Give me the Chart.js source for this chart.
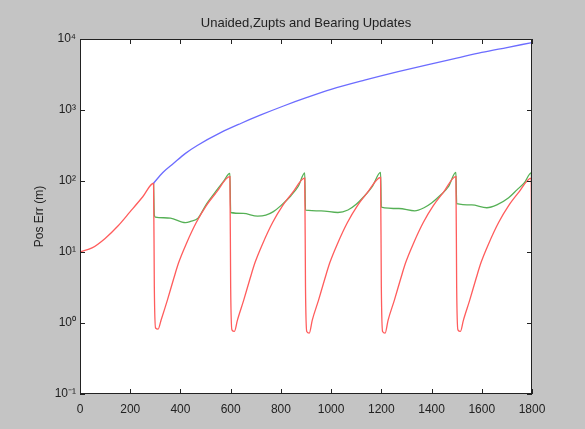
<!DOCTYPE html>
<html>
    <head>
        <title></title>
        <script src="https://cdn.jsdelivr.net/npm/chart.js"></script>
        <style>
          body { margin: 0; background: #c4c4c4; }
          canvas { display: block; }
        </style>
    </head>
    <body>
        <canvas id="myChart" width="585" height="429"></canvas>

        <script>
          // red: bearing updates
          const redX = [0, 50, 100, 150, 200, 250, 293,
            296, 301, 311, 323, 348, 373, 393, 423, 463, 503, 543, 597,
            600, 605, 615, 627, 652, 677, 697, 727, 767, 807, 847, 895,
            898, 903, 913, 925, 950, 975, 995, 1025, 1065, 1105, 1145, 1197,
            1200, 1205, 1215, 1227, 1252, 1277, 1297, 1327, 1367, 1407, 1447, 1497,
            1500, 1505, 1515, 1527, 1552, 1577, 1597, 1627, 1667, 1707, 1747, 1797,
            1800];
          const redY = [10, 11.5, 15.5, 23, 37, 60, 93,
            3.2, 0.85, 0.82, 1.1, 2.1, 4.2, 7.1, 13, 26, 45, 69, 115,
            3.2, 0.8, 0.76, 1.1, 2.1, 4.2, 7.1, 13, 26, 45, 69, 110,
            3.2, 0.76, 0.72, 1.1, 2.1, 4.2, 7.1, 13, 26, 45, 69, 112,
            3.2, 0.76, 0.72, 1.1, 2.1, 4.2, 7.1, 13, 26, 45, 69, 115,
            3.2, 0.8, 0.76, 1.1, 2.1, 4.2, 7.1, 13, 26, 45, 69, 110,
            0.8];

          // green: zupts
          const greenX = [293, 296, 300, 360, 420, 440, 470, 503, 543, 570, 597,
            600, 650, 707, 740, 770, 800, 840, 870, 895,
            898, 960, 1027, 1067, 1100, 1130, 1165, 1197,
            1200, 1270, 1333, 1370, 1400, 1435, 1467, 1497,
            1500, 1560, 1620, 1660, 1707, 1740, 1770, 1797, 1800];
          const greenY = [93, 33, 31, 30, 26, 27, 30, 47, 73, 97, 128,
            36, 35, 32, 33, 37, 45, 62, 85, 130,
            39, 38, 36, 39, 47, 60, 85, 132,
            43, 41, 38, 42, 49, 63, 83, 132,
            48, 46, 42, 46, 58, 75, 95, 130, 55];

          // blue: unaided
          const blueX = [293, 330, 373, 420, 467, 560, 640, 720, 813, 907, 1000, 1133, 1267, 1400, 1500, 1600, 1700, 1800];
          const blueY = [93, 132, 178, 245, 316, 479, 646, 851, 1148, 1514, 1950, 2630, 3467, 4467, 5370, 6457, 7586, 8913];

          const yTicks = [0.1, 1, 10, 100, 1000, 10000];
          const yTickLabels = ['10\u207B\u00B9', '10\u2070', '10\u00B9', '10\u00B2', '10\u00B3', '10\u2074'];

          const pts = (xs, ys) => xs.map((x, i) => ({x: x, y: ys[i]}));

          const frame = {
            id: 'frame',
            beforeDraw(chart) {
              const {ctx, chartArea: a} = chart;
              ctx.save();
              ctx.fillStyle = '#fff';
              ctx.fillRect(a.left, a.top, a.right - a.left, a.bottom - a.top);
              ctx.restore();
            },
            afterDraw(chart) {
              const {ctx, chartArea: a, scales} = chart;
              const len = 5;
              ctx.save();
              ctx.strokeStyle = '#222';
              ctx.lineWidth = 1;
              ctx.beginPath();
              scales.x.ticks.forEach(t => {
                const px = Math.round(scales.x.getPixelForValue(t.value)) + 0.5;
                ctx.moveTo(px, a.bottom); ctx.lineTo(px, a.bottom - len);
                ctx.moveTo(px, a.top); ctx.lineTo(px, a.top + len);
              });
              scales.y.ticks.forEach(t => {
                const py = Math.round(scales.y.getPixelForValue(t.value)) + 0.5;
                ctx.moveTo(a.left, py); ctx.lineTo(a.left + len, py);
                ctx.moveTo(a.right, py); ctx.lineTo(a.right - len, py);
              });
              ctx.stroke();
              ctx.strokeRect(Math.round(a.left) + 0.5, Math.round(a.top) + 0.5,
                Math.round(a.right - a.left) - 1, Math.round(a.bottom - a.top) - 1);
              ctx.restore();
            }
          };

          const font = {family: "'Liberation Sans', Arial, sans-serif", size: 12};

          new Chart(document.getElementById('myChart'), {
            type: 'line',
            data: {
              datasets: [
                {label: 'Unaided', data: pts(blueX, blueY), borderColor: '#6c6cff', borderWidth: 1.3},
                {label: 'Bearing', data: pts(redX, redY), borderColor: '#ff5c5c', borderWidth: 1.3},
                {label: 'Zupts', data: pts(greenX, greenY), borderColor: '#55b055', borderWidth: 1.3}
              ]
            },
            options: {
              responsive: false,
              animation: false,
              parsing: false,
              elements: {
                point: {radius: 0},
                line: {cubicInterpolationMode: 'monotone', fill: false}
              },
              layout: {padding: {left: 27, right: 0, top: 0, bottom: 0}},
              plugins: {
                legend: {display: false},
                tooltip: {enabled: false},
                title: {
                  display: true,
                  text: 'Unaided,Zupts and Bearing Updates',
                  color: '#222',
                  font: {family: font.family, size: 13, weight: 'normal'},
                  padding: {top: 16, bottom: 7.4}
                }
              },
              scales: {
                x: {
                  type: 'linear',
                  min: 0, max: 1800,
                  grid: {display: false, drawTicks: false},
                  border: {display: false},
                  ticks: {stepSize: 200, padding: 8, color: '#222', font: font,
                    maxRotation: 0, autoSkip: false, callback: v => String(v)},
                  afterFit: s => { s.height = 35; }
                },
                y: {
                  type: 'logarithmic',
                  min: 0.1, max: 10000,
                  grid: {display: false, drawTicks: false},
                  border: {display: false},
                  afterBuildTicks: s => { s.ticks = yTicks.map(v => ({value: v})); },
                  ticks: {padding: 4, color: '#222', font: font, autoSkip: false,
                    callback: v => yTickLabels[yTicks.indexOf(v)]},
                  title: {display: true, text: 'Pos Err (m)', color: '#222', font: font,
                    padding: {top: 5, bottom: 0}},
                  afterFit: s => { s.width = 53; }
                },
                // empty right margin so the title centres over the plot
                yRight: {
                  type: 'linear',
                  position: 'right',
                  min: 0, max: 1,
                  grid: {display: false, drawTicks: false},
                  border: {display: false},
                  ticks: {display: false},
                  afterFit: s => { s.width = 53; }
                }
              }
            },
            plugins: [frame]
          });
        </script>
    </body>
</html>
